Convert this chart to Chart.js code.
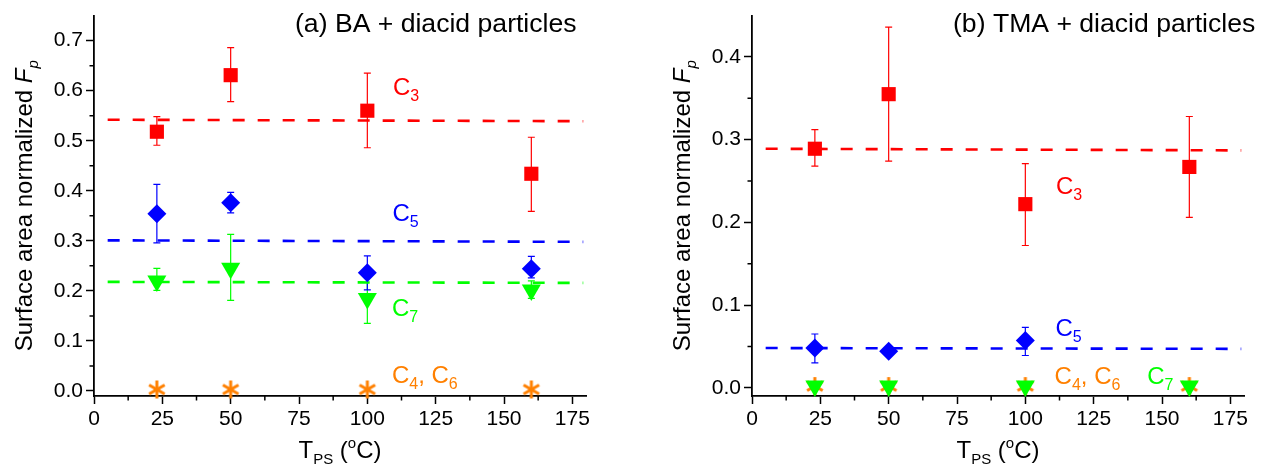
<!DOCTYPE html>
<html>
<head>
<meta charset="utf-8">
<script src="https://cdn.jsdelivr.net/npm/chart.js@4.4.0/dist/chart.umd.min.js"></script>
<style>
  body { margin: 0; background: #fff; }
  #wrap { position: relative; width: 1265px; height: 471px; }
  #cA { position: absolute; left: 0; top: 0; }
  #cB { position: absolute; left: 632px; top: 0; }
</style>
</head>
<body>
<div id="wrap">
  <canvas id="cA" width="632" height="471"></canvas>
  <canvas id="cB" width="633" height="471"></canvas>
</div>
<script>
// temperatures (T_PS, deg C)
var temps = [23, 50, 100, 160]
var tempsB5 = [23, 50, 100]

// (a) BA + diacid particles
var a_c3 = [0.518, 0.631, 0.560, 0.434]
var a_c3_hi = [0.548, 0.686, 0.635, 0.507]
var a_c3_lo = [0.491, 0.578, 0.486, 0.359]
var a_c5 = [0.354, 0.376, 0.236, 0.244]
var a_c5_hi = [0.413, 0.397, 0.270, 0.269]
var a_c5_lo = [0.296, 0.356, 0.202, 0.226]
var a_c7 = [0.220, 0.245, 0.185, 0.202]
var a_c7_hi = [0.245, 0.313, 0.243, 0.220]
var a_c7_lo = [0.201, 0.181, 0.135, 0.185]
var a_c46 = [0.003, 0.003, 0.003, 0.003]

// (b) TMA + diacid particles
var b_c3 = [0.289, 0.355, 0.222, 0.267]
var b_c3_hi = [0.312, 0.436, 0.271, 0.328]
var b_c3_lo = [0.268, 0.274, 0.172, 0.206]
var b_c5 = [0.048, 0.044, 0.057]
var b_c5_hi = [0.065, 0.046, 0.073]
var b_c5_lo = [0.030, 0.042, 0.039]
var b_c7 = [0.002, 0.002, 0.002, 0.002]
var b_c46 = [0.002, 0.002, 0.002, 0.002]

// mean (fit) lines, start and end
var fitX = [5, 179]
var a_fit3 = [0.542, 0.539]
var a_fit5 = [0.301, 0.298]
var a_fit7 = [0.218, 0.216]
var b_fit3 = [0.289, 0.287]
var b_fit5 = [0.048, 0.047]

// ticks
var xTicks = [0, 25, 50, 75, 100, 125, 150, 175]
var a_yTicks = [0.0, 0.1, 0.2, 0.3, 0.4, 0.5, 0.6, 0.7]
var b_yTicks = [0.0, 0.1, 0.2, 0.3, 0.4]

var RED = '#ff0000', BLUE = '#0000ff', GREEN = '#00ff00', ORANGE = '#ff8000'
var fam = '"Liberation Sans", Arial, sans-serif'

function fnt(size, italic) {
    return (italic ? 'italic ' : '') + size + 'px ' + fam
}

// draw a run of text pieces (sub/superscripts), returns width
function textRun(ctx, parts, x, y, draw) {
    var cx = x
    parts.forEach(function(p) {
        ctx.font = fnt(p.s, p.i)
        if (draw) ctx.fillText(p.t, cx, y + (p.dy || 0))
        cx += ctx.measureText(p.t).width
    })
    return cx - x
}

function cLabel(main, sub) {
    return [{ t: main, s: 24 }, { t: sub, s: 16, dy: 6 }]
}

// 6-arm asterisk marker
function asterisk() {
    var c = document.createElement('canvas')
    c.width = 22; c.height = 22
    var g = c.getContext('2d')
    g.strokeStyle = ORANGE
    g.lineWidth = 3
    for (var k = 0; k < 3; k++) {
        var a = Math.PI / 2 + k * Math.PI / 3
        g.beginPath()
        g.moveTo(11 - 9 * Math.cos(a), 11 - 9 * Math.sin(a))
        g.lineTo(11 + 9 * Math.cos(a), 11 + 9 * Math.sin(a))
        g.stroke()
    }
    return c
}
var star = asterisk()

function pts(xs, ys) {
    return xs.map(function(x, i) { return { x: x, y: ys[i] } })
}

function marks(xs, ys, color, style, radius, rot, order, hi, lo) {
    return {
        data: pts(xs, ys),
        backgroundColor: color,
        borderColor: color,
        borderWidth: 0,
        pointStyle: style,
        pointRadius: radius,
        pointHoverRadius: radius,
        rotation: rot,
        showLine: false,
        clip: false,
        order: order,
        errColor: color,
        errHi: hi,
        errLo: lo
    }
}

function fitLine(ys, color) {
    return {
        data: pts(fitX, ys),
        borderColor: color,
        borderWidth: 2.6,
        borderDash: [12, 13],
        pointRadius: 0,
        showLine: true,
        fill: false,
        order: 10
    }
}

var extras = {
    id: 'extras',
    beforeDatasetsDraw: function(chart) {
        var ctx = chart.ctx, xs = chart.scales.x, ys = chart.scales.y
        ctx.save()
        chart.data.datasets.forEach(function(ds) {
            if (!ds.errHi) return
            ctx.strokeStyle = ds.errColor
            ctx.lineWidth = 1.2
            ds.data.forEach(function(p, i) {
                var px = xs.getPixelForValue(p.x)
                var yh = ys.getPixelForValue(ds.errHi[i])
                var yl = ys.getPixelForValue(ds.errLo[i])
                ctx.beginPath()
                ctx.moveTo(px, yh); ctx.lineTo(px, yl)
                ctx.moveTo(px - 3.5, yh); ctx.lineTo(px + 3.5, yh)
                ctx.moveTo(px - 3.5, yl); ctx.lineTo(px + 3.5, yl)
                ctx.stroke()
            })
        })
        ctx.restore()
    },
    afterDraw: function(chart) {
        var o = chart.options.plugins.extras
        var ctx = chart.ctx, xs = chart.scales.x, ys = chart.scales.y, ca = chart.chartArea
        ctx.save()

        // minor ticks
        ctx.strokeStyle = '#000'
        ctx.lineWidth = 1.5
        ctx.beginPath()
        for (var i = 0; i < xTicks.length - 1; i++) {
            var mx = xs.getPixelForValue((xTicks[i] + xTicks[i + 1]) / 2)
            ctx.moveTo(mx, ca.bottom); ctx.lineTo(mx, ca.bottom + 4.5)
        }
        var yt = o.yTicks
        for (var j = 0; j < yt.length - 1; j++) {
            var my = ys.getPixelForValue((yt[j] + yt[j + 1]) / 2)
            ctx.moveTo(ca.left, my); ctx.lineTo(ca.left - 4.5, my)
        }
        ctx.stroke()

        // curve labels
        ctx.textBaseline = 'alphabetic'
        ctx.textAlign = 'left'
        o.labels.forEach(function(l) {
            ctx.fillStyle = l.color
            textRun(ctx, l.parts, xs.getPixelForValue(l.x), ys.getPixelForValue(l.y), true)
        })

        // panel title
        ctx.fillStyle = '#000'
        textRun(ctx, [{ t: o.title, s: 26.6 }], ca.left + 201, 32, true)

        // x title  T_PS (oC)
        var xt = [{ t: 'T', s: 24 }, { t: 'PS', s: 15, dy: 6 }, { t: ' (', s: 24 },
                  { t: 'o', s: 15, dy: -10 }, { t: 'C)', s: 24 }]
        var w = textRun(ctx, xt, 0, 0, false)
        textRun(ctx, xt, (ca.left + ca.right) / 2 - w / 2, 458, true)

        // y title  Surface area normalized F_p
        var yTitle = [{ t: 'Surface area normalized ', s: 24 }, { t: 'F', s: 24, i: true },
                      { t: 'p', s: 15, i: true, dy: 6 }]
        var wy = textRun(ctx, yTitle, 0, 0, false)
        ctx.translate(ca.left - 62, (ca.top + ca.bottom) / 2)
        ctx.rotate(-Math.PI / 2)
        textRun(ctx, yTitle, -wy / 2, 0, true)

        ctx.restore()
    }
}

function axis(min, max, ticks, fmt, fitFn) {
    return {
        type: 'linear',
        min: min,
        max: max,
        afterBuildTicks: function(s) { s.ticks = ticks.map(function(v) { return { value: v } }) },
        afterFit: fitFn,
        grid: { display: true, drawOnChartArea: false, drawTicks: true, tickLength: 8, tickWidth: 1.5, tickColor: '#000' },
        border: { display: true, color: '#000', width: 1.8 },
        ticks: {
            color: '#000',
            font: { family: fam, size: 21 },
            padding: 3,
            maxRotation: 0,
            autoSkip: false,
            callback: fmt
        }
    }
}

function makeChart(id, datasets, yMax, yTicks, yWidth, padRight, labels, title) {
    return new Chart(document.getElementById(id), {
        type: 'scatter',
        data: { datasets: datasets },
        options: {
            responsive: false,
            animation: false,
            devicePixelRatio: 1,
            layout: { padding: { left: 0, top: 14, right: padRight, bottom: 0 } },
            scales: {
                x: axis(0, 180, xTicks, function(v) { return String(v) }, function(s) { s.height = 75 }),
                y: axis(-0.01, yMax, yTicks, function(v) { return v.toFixed(1) }, function(s) { s.width = yWidth })
            },
            plugins: {
                legend: { display: false },
                tooltip: { enabled: false },
                extras: { labels: labels, title: title, yTicks: yTicks }
            }
        },
        plugins: [extras]
    })
}

makeChart('cA', [
    marks(temps, a_c7, GREEN, 'triangle', 11, 180, 0, a_c7_hi, a_c7_lo),
    marks(temps, a_c5, BLUE, 'rectRot', 9.5, 0, 1, a_c5_hi, a_c5_lo),
    marks(temps, a_c3, RED, 'rect', 10, 0, 2, a_c3_hi, a_c3_lo),
    marks(temps, a_c46, ORANGE, star, 11, 0, 3),
    fitLine(a_fit3, RED),
    fitLine(a_fit5, BLUE),
    fitLine(a_fit7, GREEN)
], 0.75, a_yTicks, 94, 46, [
    { x: 109.4, y: 0.591, color: RED, parts: cLabel('C', '3') },
    { x: 109.2, y: 0.340, color: BLUE, parts: cLabel('C', '5') },
    { x: 109.0, y: 0.150, color: GREEN, parts: cLabel('C', '7') },
    { x: 109.0, y: 0.016, color: ORANGE, parts: cLabel('C', '4').concat([{ t: ', ', s: 24 }], cLabel('C', '6')) }
], '(a) BA + diacid particles')

makeChart('cB', [
    marks(temps, b_c7, GREEN, 'triangle', 11, 180, 0),
    marks(temps, b_c46, ORANGE, star, 11, 0, 1),
    marks(tempsB5, b_c5, BLUE, 'rectRot', 9.5, 0, 2, b_c5_hi, b_c5_lo),
    marks(temps, b_c3, RED, 'rect', 10, 0, 3, b_c3_hi, b_c3_lo),
    fitLine(b_fit3, RED),
    fitLine(b_fit5, BLUE)
], 0.45, b_yTicks, 120, 21, [
    { x: 111.2, y: 0.234, color: RED, parts: cLabel('C', '3') },
    { x: 111.0, y: 0.062, color: BLUE, parts: cLabel('C', '5') },
    { x: 110.7, y: 0.005, color: ORANGE, parts: cLabel('C', '4').concat([{ t: ', ', s: 24 }], cLabel('C', '6')) },
    { x: 144.6, y: 0.005, color: GREEN, parts: cLabel('C', '7') }
], '(b) TMA + diacid particles')
</script>
</body>
</html>
